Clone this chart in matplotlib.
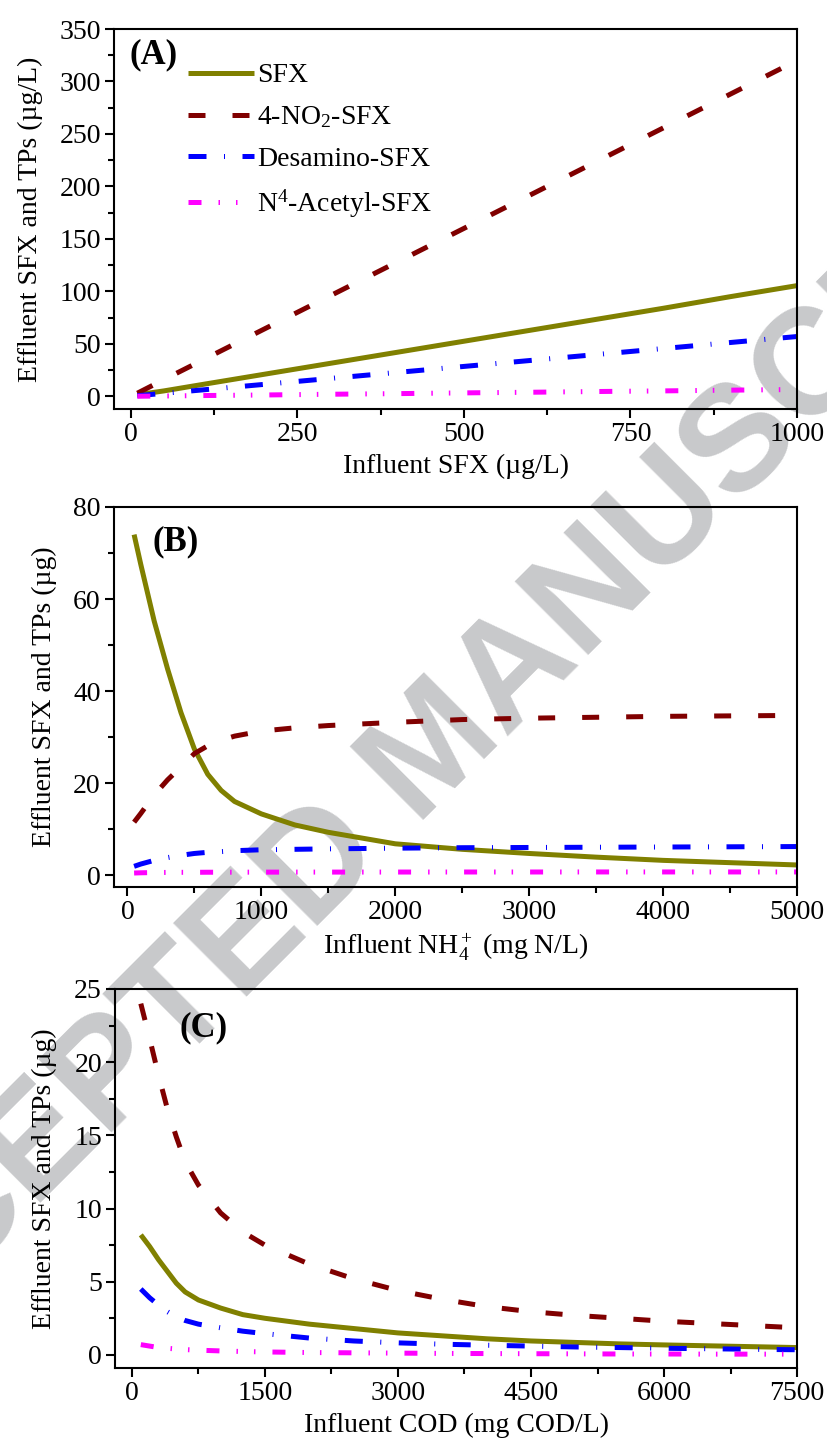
import matplotlib
matplotlib.use("Agg")
import matplotlib.pyplot as plt
from matplotlib.ticker import MultipleLocator

plt.rcParams['font.family'] = ['Liberation Serif', 'DejaVu Serif']
plt.rcParams['mathtext.fontset'] = 'custom'
plt.rcParams['mathtext.rm'] = 'Liberation Serif'
plt.rcParams['mathtext.it'] = 'Liberation Serif:italic'
plt.rcParams['mathtext.bf'] = 'Liberation Serif:bold'

# ---- panel A : influent SFX (ug/L)
x_a = [10, 50, 100, 200, 300, 400, 500, 600, 700, 800, 900, 1000]
sfx_a = [1.5, 5.2, 10.5, 21, 31.5, 42, 52.5, 63, 73.5, 84, 95, 105.5]
no2_a = [3, 16, 32, 64, 96, 128, 160, 192, 224, 256, 288, 320]
desam_a = [0.6, 2.9, 5.7, 11.4, 17.1, 22.8, 28.5, 34.2, 39.9, 45.6, 51.3, 57]
acet_a = [0.1, 0.35, 0.7, 1.3, 2.0, 2.6, 3.3, 3.9, 4.6, 5.2, 5.9, 6.5]

# ---- panel B : influent NH4+ (mg N/L)
x_b = [50, 100, 200, 300, 400, 500, 600, 700, 800, 1000, 1250, 1500,
       2000, 2500, 3000, 3500, 4000, 4500, 5000]
sfx_b = [74, 67.5, 55.2, 44.8, 35.3, 27.4, 21.9, 18.4, 16.0, 13.3, 10.9, 9.3,
         6.8, 5.6, 4.7, 3.9, 3.2, 2.7, 2.2]
no2_b = [11.5, 13.4, 17.4, 20.7, 23.5, 26.4, 28.1, 29.3, 30.2, 31.3, 32.0, 32.5,
         33.2, 33.8, 34.1, 34.3, 34.5, 34.6, 34.7]
desam_b = [1.9, 2.4, 3.2, 3.8, 4.3, 4.7, 4.95, 5.1, 5.3, 5.5, 5.6, 5.7,
           5.85, 5.95, 6.0, 6.05, 6.1, 6.15, 6.2]
acet_b = [0.45, 0.5, 0.55, 0.58, 0.6, 0.6, 0.62, 0.62, 0.63, 0.64, 0.65, 0.65,
          0.66, 0.67, 0.67, 0.68, 0.68, 0.68, 0.68]

# ---- panel C : influent COD (mg COD/L)
x_c = [100, 200, 300, 400, 500, 600, 750, 1000, 1250, 1500, 2000, 2500, 3000,
       3500, 4000, 4500, 5000, 5500, 6000, 6500, 7000, 7500]
sfx_c = [8.2, 7.4, 6.5, 5.7, 4.9, 4.3, 3.75, 3.2, 2.75, 2.5, 2.1, 1.8, 1.5,
         1.3, 1.1, 0.95, 0.85, 0.75, 0.68, 0.62, 0.56, 0.5]
no2_c = [24.0, 21.6, 19.1, 16.8, 14.9, 13.2, 11.6, 9.7, 8.4, 7.5, 6.2, 5.2, 4.4,
         3.8, 3.3, 2.95, 2.7, 2.5, 2.3, 2.15, 2.0, 1.85]
desam_c = [4.5, 3.9, 3.4, 2.95, 2.6, 2.35, 2.1, 1.85, 1.62, 1.45, 1.15, 0.95, 0.82,
           0.73, 0.66, 0.6, 0.54, 0.5, 0.45, 0.42, 0.38, 0.35]
acet_c = [0.7, 0.6, 0.5, 0.45, 0.4, 0.36, 0.32, 0.27, 0.23, 0.2, 0.16, 0.14, 0.12,
          0.1, 0.09, 0.08, 0.07, 0.06, 0.06, 0.05, 0.05, 0.05]

names = ['SFX', '4-NO$_2$-SFX', 'Desamino-SFX', 'N$^4$-Acetyl-SFX']
colors = ['#808000', '#800000', '#0000FF', '#FF00FF']
dash_list = [None, (3.4, 5.4), (3.6, 3.5, 0.2, 3.5), (2.6, 3.4, 0.3, 3.2, 0.3, 3.4)]
LW = 3.6
FS = 20

fig = plt.figure(figsize=(8.28, 14.44), dpi=100, facecolor='white')

# watermark, under the axes
fig.text(0.527, 0.479, 'ACCEPTED MANUSCRIPT', fontsize=108, fontweight='bold',
         family='Liberation Sans', color='#C8C9CB', rotation=45,
         ha='center', va='center', rotation_mode='anchor', zorder=-5)

ax_a = fig.add_axes([0.1377, 0.7168, 0.8249, 0.2631])
ax_b = fig.add_axes([0.1377, 0.3857, 0.8249, 0.2632])
ax_c = fig.add_axes([0.1390, 0.0526, 0.8236, 0.2625])

panels = [
    (ax_a, x_a, [sfx_a, no2_a, desam_a, acet_a], (-25, 1000), (-12, 350), 250, 125, 50, 25,
     'Influent SFX (\u00b5g/L)', 'Effluent SFX and TPs (\u00b5g/L)', '(A)', (0.022, 0.975)),
    (ax_b, x_b, [sfx_b, no2_b, desam_b, acet_b], (-100, 5000), (-2.6, 80), 1000, 500, 20, 10,
     'Influent NH$_4^+$ (mg N/L)', 'Effluent SFX and TPs (\u00b5g)', '(B)', (0.057, 0.953)),
    (ax_c, x_c, [sfx_c, no2_c, desam_c, acet_c], (-190, 7500), (-0.9, 25), 1500, 750, 5, 2.5,
     'Influent COD (mg COD/L)', 'Effluent SFX and TPs (\u00b5g)', '(C)', (0.094, 0.94)),
]

for ax, xs, series, xl, yl, xmaj, xmin, ymaj, ymin, xlab, ylab, tag, tagpos in panels:
    ax.set_facecolor('none')
    for ys, name, c, d in zip(series, names, colors, dash_list):
        if d is None:
            ax.plot(xs, ys, color=c, lw=LW, label=name, solid_capstyle='butt')
        else:
            ax.plot(xs, ys, color=c, lw=LW, label=name, dashes=d, dash_capstyle='butt')
    ax.set_xlim(*xl)
    ax.set_ylim(*yl)
    ax.xaxis.set_major_locator(MultipleLocator(xmaj))
    ax.xaxis.set_minor_locator(MultipleLocator(xmin))
    ax.yaxis.set_major_locator(MultipleLocator(ymaj))
    ax.yaxis.set_minor_locator(MultipleLocator(ymin))
    ax.tick_params(which='both', direction='out', width=1.5, labelsize=FS,
                   top=False, right=False)
    ax.tick_params(which='major', length=6.5, pad=3)
    ax.tick_params(which='minor', length=4)
    for s in ax.spines.values():
        s.set_linewidth(1.5)
    ax.set_xlabel(xlab, fontsize=FS, labelpad=5)
    ax.set_ylabel(ylab, fontsize=FS, labelpad=12)
    ax.text(tagpos[0], tagpos[1], tag, transform=ax.transAxes, fontsize=25,
            fontweight='bold', ha='left', va='top')

ax_a.legend(loc='upper left', bbox_to_anchor=(0.108, 0.911), frameon=False,
            fontsize=FS, handlelength=2.4, handletextpad=0.1, labelspacing=0.58,
            borderpad=0, borderaxespad=0)

fig.savefig('out.png', dpi=100, facecolor='white')
